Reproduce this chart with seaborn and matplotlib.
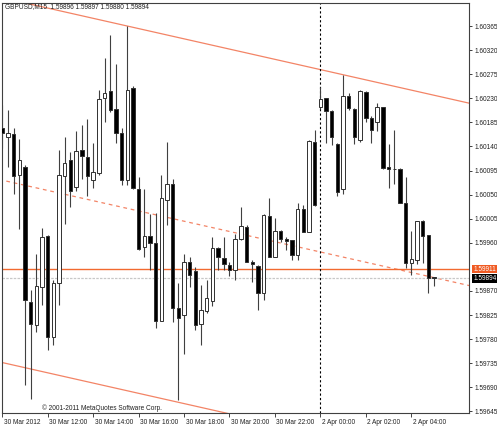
import matplotlib
matplotlib.use("Agg")
import matplotlib.pyplot as plt
import matplotlib.transforms as mtransforms
import numpy as np
import pandas as pd
import seaborn as sns

# GBPUSD M15 candles, 30 Mar 2012 10:00 .. 2 Apr 2012 05:00
opens = [
    1.60175, 1.60158, 1.60163, 1.60086, 1.60102, 1.59850, 1.59806, 1.59877, 1.59973, 1.59784,
    1.59884, 1.60084, 1.60114, 1.60064, 1.60134, 1.60121, 1.60077, 1.60091, 1.60231, 1.60243,
    1.60210, 1.60166, 1.60077, 1.60249, 1.60060, 1.59953, 1.59973, 1.59959, 1.59814, 1.60040,
    1.60070, 1.59839, 1.59825, 1.59924, 1.59908, 1.59808, 1.59833, 1.59851, 1.59950, 1.59931,
    1.59918, 1.59910, 1.59968, 1.59990, 1.59925, 1.59917, 1.59866, 1.60010, 1.59934, 1.59982,
    1.59967, 1.59965, 1.59937, 1.60024, 1.59981, 1.60149, 1.60213, 1.60230, 1.60207, 1.60145,
    1.60060, 1.60235, 1.60210, 1.60152, 1.60241, 1.60193, 1.60185, 1.60213, 1.60102, 1.60098,
    1.60098, 1.60035, 1.59922, 1.59928, 1.60001, 1.59975, 1.59896]
highs = [
    1.60218, 1.60208, 1.60174, 1.60154, 1.60105, 1.59872, 1.59939, 1.59987, 1.59975, 1.59890,
    1.60134, 1.60158, 1.60130, 1.60169, 1.60180, 1.60191, 1.60147, 1.60246, 1.60305, 1.60349,
    1.60294, 1.60174, 1.60365, 1.60253, 1.60082, 1.60060, 1.60014, 1.60016, 1.60087, 1.60149,
    1.60079, 1.59884, 1.59939, 1.59934, 1.59915, 1.59881, 1.59890, 1.59970, 1.59953, 1.59970,
    1.59925, 1.59976, 1.60027, 1.59993, 1.59928, 1.59918, 1.60014, 1.60043, 1.60006, 1.59984,
    1.59970, 1.59965, 1.60035, 1.60031, 1.60152, 1.60171, 1.60251, 1.60231, 1.60208, 1.60146,
    1.60274, 1.60240, 1.60212, 1.60246, 1.60243, 1.60196, 1.60222, 1.60214, 1.60145, 1.60170,
    1.60099, 1.60082, 1.59982, 1.60001, 1.60003, 1.59975, 1.59897]
lows = [
    1.60137, 1.60102, 1.60051, 1.59986, 1.59694, 1.59668, 1.59793, 1.59844, 1.59760, 1.59769,
    1.59844, 1.59995, 1.60027, 1.60057, 1.60079, 1.60047, 1.60062, 1.60087, 1.60186, 1.60205,
    1.60147, 1.60068, 1.60068, 1.60061, 1.59947, 1.59933, 1.59909, 1.59801, 1.59813, 1.59993,
    1.59812, 1.59666, 1.59753, 1.59877, 1.59797, 1.59769, 1.59828, 1.59842, 1.59909, 1.59909,
    1.59898, 1.59890, 1.59965, 1.59924, 1.59887, 1.59834, 1.59853, 1.59933, 1.59933, 1.59962,
    1.59947, 1.59928, 1.59928, 1.59980, 1.59980, 1.60029, 1.60210, 1.60147, 1.60143, 1.60048,
    1.60052, 1.60208, 1.60145, 1.60149, 1.60185, 1.60147, 1.60168, 1.60097, 1.60063, 1.60069,
    1.60034, 1.59912, 1.59900, 1.59920, 1.59922, 1.59866, 1.59880]
closes = [
    1.60165, 1.60165, 1.60084, 1.60114, 1.59853, 1.59808, 1.59879, 1.59971, 1.59784, 1.59885,
    1.60087, 1.60110, 1.60057, 1.60132, 1.60123, 1.60084, 1.60092, 1.60229, 1.60240, 1.60208,
    1.60165, 1.60077, 1.60246, 1.60062, 1.59948, 1.59973, 1.59959, 1.59814, 1.60043, 1.60070,
    1.59839, 1.59819, 1.59924, 1.59900, 1.59806, 1.59834, 1.59856, 1.59950, 1.59933, 1.59920,
    1.59909, 1.59967, 1.59991, 1.59925, 1.59920, 1.59866, 1.60011, 1.59934, 1.59982, 1.59967,
    1.59964, 1.59937, 1.60024, 1.59981, 1.60150, 1.60031, 1.60228, 1.60207, 1.60157, 1.60054,
    1.60235, 1.60211, 1.60158, 1.60243, 1.60193, 1.60170, 1.60213, 1.60099, 1.60097, 1.60097,
    1.60035, 1.59923, 1.59929, 1.60001, 1.59973, 1.59895, 1.59894]

time_labels = ["30 Mar 2012", "30 Mar 12:00", "30 Mar 14:00", "30 Mar 16:00", "30 Mar 18:00",
               "30 Mar 20:00", "30 Mar 22:00", "2 Apr 00:00", "2 Apr 02:00", "2 Apr 04:00"]
time_label_bars = [0, 8, 16, 24, 32, 40, 48, 56, 64, 72]
price_ticks = [1.60365, 1.60320, 1.60275, 1.60230, 1.60185, 1.60140, 1.60095, 1.60050,
               1.60005, 1.59960, 1.59870, 1.59825, 1.59780, 1.59735, 1.59690, 1.59645]

# channel: upper line through two highs, lower line parallel through a low
channel_upper = [(22, 1.60365), (60, 1.60274)]
channel_lower_anchor = (31, 1.59662)
hline_price = 1.59911
day_separator_bar = 56
bid_price = 1.59894

df = pd.DataFrame({"open": opens, "high": highs, "low": lows, "close": closes})
df["bar"] = np.arange(len(df))
df["bull"] = df["close"] >= df["open"]

sns.set_theme(style="white")
plt.rcParams["font.family"] = ["Liberation Sans", "DejaVu Sans"]
fs = 4.7

fig = plt.figure(figsize=(4.97, 4.26), dpi=100)
ax = fig.add_axes([2 / 497, 13 / 426, 467 / 497, 410 / 426])

# channel lines
(x1, y1), (x2, y2) = channel_upper
slope = (y2 - y1) / (x2 - x1)
xs = np.array([-10, 95])
upper = y1 + slope * (xs - x1)
lower = channel_lower_anchor[1] + slope * (xs - channel_lower_anchor[0])
mid = (upper + lower) / 2
sns.lineplot(x=xs, y=upper, ax=ax, color="#f38466", linewidth=0.9, zorder=1)
sns.lineplot(x=xs, y=lower, ax=ax, color="#f38466", linewidth=0.9, zorder=1)
ax.plot(xs, mid, color="#f38466", linewidth=0.9, linestyle=(0, (3, 3)), zorder=1)

# horizontal line, bid line, day separator
ax.axhline(hline_price, color="#f26a30", linewidth=1.0, zorder=1)
ax.axhline(bid_price, color="#c8c8c8", linewidth=0.9, linestyle=(0, (2, 1)), zorder=1)
ax.axvline(day_separator_bar, color="black", linewidth=0.8, linestyle=(0, (2, 2)), zorder=1)

# candles
ax.vlines(df["bar"], df["low"], df["high"], color="#404040", linewidth=0.8, zorder=2)
body_low = df[["open", "close"]].min(axis=1)
body_h = (df["close"] - df["open"]).abs().clip(lower=0.000012)
ax.bar(df["bar"], body_h, bottom=body_low, width=0.6,
       color=np.where(df["bull"], "white", "black"),
       edgecolor="#303030", linewidth=0.7, zorder=3)

ax.set_xlim(-0.05, -0.05 + 467 / 5.68)
ax.set_ylim(1.59642, 1.60408)

# right price axis
ax.yaxis.tick_right()
ax.set_yticks(price_ticks)
ax.set_yticklabels([f"{p:.5f}" for p in price_ticks], fontsize=fs, color="#202020")
ax.tick_params(axis="y", direction="out", length=2.5, width=0.6, pad=1.5, colors="#202020",
               right=True)

# bottom time axis, labels to the right of the tick
ax.set_xticks(time_label_bars)
ax.set_xticklabels(time_labels, fontsize=fs, color="#202020")
ax.tick_params(axis="x", direction="out", length=3, width=0.6, pad=1.5, bottom=True)
offset = mtransforms.ScaledTranslation(1.5 / 100, 0, fig.dpi_scale_trans)
for lab in ax.get_xticklabels():
    lab.set_horizontalalignment("left")
    lab.set_transform(lab.get_transform() + offset)

for side in ["left", "top", "right", "bottom"]:
    ax.spines[side].set_visible(True)
    ax.spines[side].set_color("#404040")
    ax.spines[side].set_linewidth(0.8)

# price boxes on the axis
ax.annotate(f"{hline_price:.5f}", xy=(1.0, hline_price), xycoords=("axes fraction", "data"),
            xytext=(3, 0), textcoords="offset points", fontsize=fs, color="white",
            va="center", ha="left",
            bbox=dict(boxstyle="square,pad=0.15", facecolor="#f05a22", edgecolor="none"))
ax.annotate(f"{bid_price:.5f}", xy=(1.0, bid_price), xycoords=("axes fraction", "data"),
            xytext=(3, 0), textcoords="offset points", fontsize=fs, color="white",
            va="center", ha="left",
            bbox=dict(boxstyle="square,pad=0.15", facecolor="black", edgecolor="none"))

ax.text(3 / 467, 1 - 4 / 410,
        f"GBPUSD,M15  {opens[-1]:.5f} {highs[-1]:.5f} {lows[-1]:.5f} {closes[-1]:.5f}",
        transform=ax.transAxes, fontsize=fs, color="#202020", va="center", ha="left")
ax.text(40 / 467, 5 / 410, "\u00a9 2001-2011 MetaQuotes Software Corp.",
        transform=ax.transAxes, fontsize=fs, color="#202020", va="center", ha="left")

fig.savefig("out.png", dpi=100)
